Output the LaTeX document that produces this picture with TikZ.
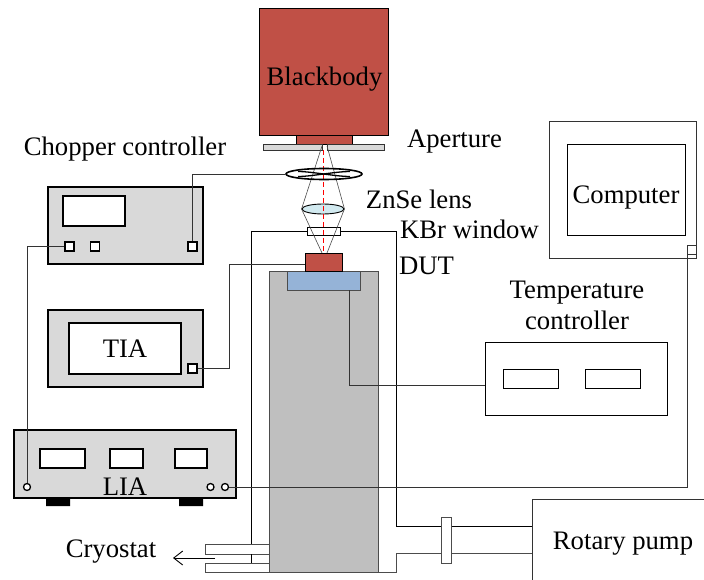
\documentclass[tikz,border=0pt]{standalone}
\usepackage{fontspec}
\setmainfont{Liberation Serif}
\usetikzlibrary{arrows.meta,shapes.geometric}
\definecolor{redbb}{RGB}{192,80,70}
\definecolor{panel}{RGB}{217,217,217}
\definecolor{cryo}{RGB}{191,191,191}
\definecolor{bluestage}{RGB}{149,179,215}
\definecolor{lensblue}{RGB}{210,234,240}
\tikzset{
  x=1pt,y=-1pt,
  inst/.style={draw=black,line width=1.4pt,fill=panel},
  screen/.style={draw=black,line width=1.4pt,fill=white},
  plainbox/.style={draw=black,line width=0.9pt,fill=white},
  wire/.style={draw=black!80,line width=0.9pt},
  beam/.style={draw=black!70,line width=0.6pt},
  port/.style={draw=black,line width=1.3pt,fill=white,minimum size=9pt,inner sep=0pt,rectangle},
  roundport/.style={draw=black,line width=1.3pt,fill=white,minimum size=7pt,inner sep=0pt,circle},
  lbl/.style={font=\fontsize{26.7}{31}\selectfont,inner sep=0pt,align=center},
}
\begin{document}
\begin{tikzpicture}
\useasboundingbox[fill=white] (0,0) rectangle (704,580);
% outer jacket
\draw[plainbox,fill=none] (251,572) -- (251,231) -- (396,231) -- (396,526) -- (532,526);
% cryostat
\draw[draw=black!70,line width=1pt,fill=cryo] (269,271) rectangle (378,572);
\draw[plainbox,draw=black!70] (205,544) rectangle (269,554);
\draw[plainbox,draw=black!70] (205,563) rectangle (269,572);
\draw[draw=black,line width=0.9pt] (251,231) -- (251,544) (251,554) -- (251,563);
\draw[draw=black!70,line width=1pt] (378,572) -- (396,572) -- (396,553.5) -- (532,553.5);
% pump
\node[draw=black!80,line width=0.9pt,fill=white,minimum width=180pt,minimum height=90pt,anchor=north west,inner sep=0pt] (pump) at (532,499) {};
\node[lbl] (pumplabel) at (623,544) {Rotary pump};
\node[draw=black!70,line width=0.9pt,fill=white,minimum width=9.5pt,minimum height=46pt,inner sep=0pt] (flange) at (446.5,540) {};
% blackbody
\node[draw=black,line width=1pt,fill=redbb,minimum width=129pt,minimum height=127pt,inner sep=0pt,anchor=north west] (bb) at (259,8) {};
\node[lbl] (bblabel) at (324.5,79) {Blackbody};
\node[draw=black,line width=1pt,fill=redbb,minimum width=56pt,minimum height=9pt,inner sep=0pt,anchor=north west] (ap) at (296,135) {};
\draw[draw=black!80,line width=0.9pt,fill=panel] (263,144) rectangle (322,150);
\draw[draw=black!80,line width=0.9pt,fill=panel] (327,150) rectangle (384,144);
% window, lens, beam
\node[draw=black,line width=0.9pt,fill=white,minimum width=33pt,minimum height=8pt,inner sep=0pt] (win) at (323.5,231) {};
\node[draw=black,line width=0.9pt,ellipse,fill=lensblue,minimum width=42pt,minimum height=10pt,inner sep=0pt] (lens) at (323,209) {};
\coordinate (bl) at (322,146);
\coordinate (br) at (327,146);
\draw[beam] (bl) -- (lens.west) -- (322,253);
\draw[beam] (br) -- (lens.east) -- (327,253);
\draw[red,line width=1pt,dash pattern=on 5pt off 3pt] (323.5,150) -- (323.5,253);
% chopper
\node[draw=black,line width=1.6pt,ellipse,minimum width=76pt,minimum height=11pt,inner sep=0pt] (chop) at (324,174) {};
\draw[line width=1.3pt] (298,171.5) .. controls (312,171.5) and (335,176.5) .. (350,176.5);
\draw[line width=1.3pt] (298,176.5) .. controls (312,176.5) and (335,171.5) .. (350,171.5);
% DUT
\node[draw=black!70,line width=1pt,fill=bluestage,minimum width=73pt,minimum height=19pt,inner sep=0pt,anchor=north west] (stage) at (287,271) {};
\node[draw=black,line width=1pt,fill=redbb,minimum width=37pt,minimum height=18pt,inner sep=0pt,anchor=north west] (dut) at (305,253) {};
% chopper controller
\draw[inst] (48,187) rectangle (203,264);
\draw[screen] (63,196) rectangle (125,226);
\node[port] (c1) at (69.5,246.5) {};
\node[port] (c2) at (95,246.5) {};
\node[port] (c3) at (192.5,246.5) {};
% TIA
\draw[inst] (48,310) rectangle (203,387);
\node[screen,minimum width=112pt,minimum height=51pt,inner sep=0pt,lbl] (tia) at (125,348.5) {TIA};
\node[port] (t1) at (192.5,368.5) {};
% LIA
\fill[black] (46,498) rectangle (70,506) (179,498) rectangle (203,506);
\draw[inst] (14,430) rectangle (236,498);
\draw[screen] (40,449) rectangle (85,468);
\draw[screen] (110,449) rectangle (143,468);
\draw[screen] (175,449) rectangle (207,468);
\node[lbl] (lia) at (125,487) {LIA};
\node[roundport] (l1) at (27,487) {};
\node[roundport] (l2) at (210.5,487) {};
\node[roundport] (l3) at (225,487) {};
% computer
\draw[draw=black!80,line width=1pt,fill=white] (549,122) rectangle (696,258);
\node[draw=black,line width=0.9pt,fill=white,minimum width=118pt,minimum height=91pt,inner sep=0pt] (comp) at (626,189.5) {};
\node[lbl] (complabel) at (626,198) {Computer};
\node[draw=black!80,line width=0.9pt,fill=white,minimum size=9pt,inner sep=0pt] (p1) at (691.5,249.5) {};
% temperature controller
\node[draw=black,line width=0.9pt,fill=white,minimum width=182pt,minimum height=73pt,inner sep=0pt] (tc) at (576,378.5) {};
\node[draw=black,line width=0.9pt,fill=white,minimum width=55pt,minimum height=19pt,inner sep=0pt] (ts1) at (530.5,378.5) {};
\node[draw=black,line width=0.9pt,fill=white,minimum width=55pt,minimum height=19pt,inner sep=0pt] (ts2) at (612.5,378.5) {};
% connectors
\draw[wire] (c3.north) |- (chop.west);
\draw[wire] (t1.east) -| (229,264) -- (dut.west |- 0,264);
\draw[wire] (c1.west) -| (l1.north);
\draw[wire] (l3.east) -| (p1.south -| 687,0);
\draw[wire] (349,290) |- (tc.west |- 0,385);
\draw[line width=0.9pt,-{Straight Barb[length=9pt,width=14pt]}] (215,558) -- (173,558);
% labels
\node[lbl] (l_ch) at (125,149) {Chopper controller};
\node[lbl] (l_ap) at (454.5,142) {Aperture};
\node[lbl] (l_zn) at (419,199) {ZnSe lens};
\node[lbl] (l_kb) at (469.5,229) {KBr window};
\node[lbl] (l_du) at (426.5,266) {DUT};
\node[lbl] (l_tc) at (577,305) {Temperature\\controller};
\node[lbl] (l_cr) at (111,552) {Cryostat};
\end{tikzpicture}
\end{document}
